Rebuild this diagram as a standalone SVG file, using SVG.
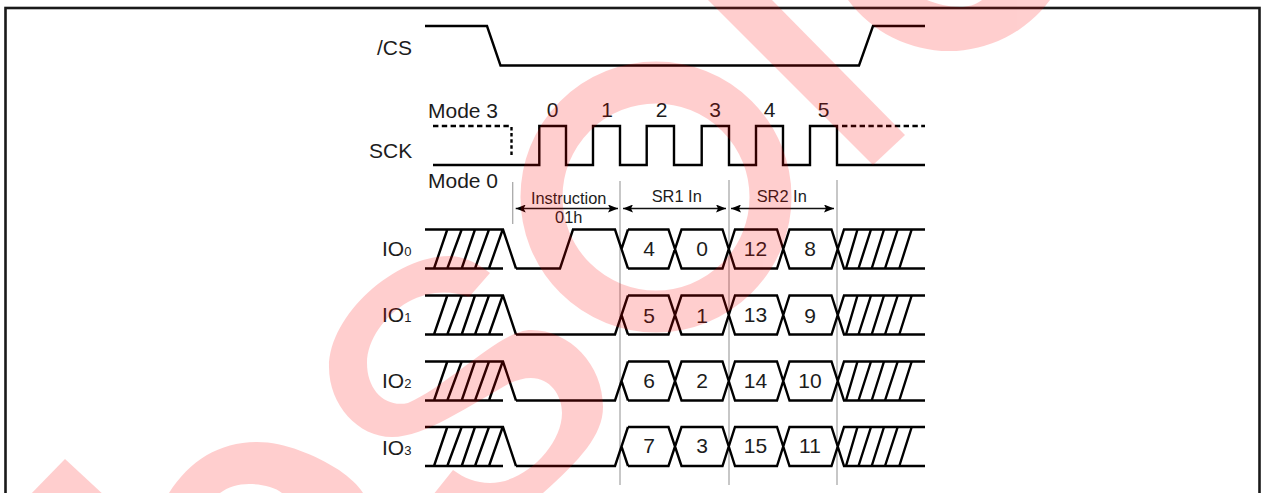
<svg xmlns="http://www.w3.org/2000/svg" xmlns:xlink="http://www.w3.org/1999/xlink" width="1262" height="493" viewBox="0 0 1262 493">
<style>
text{font-family:"Liberation Sans",Arial,sans-serif;fill:#1c1c1c}
.lg{font-size:21px}
.sm{font-size:16.4px;text-anchor:middle}
.num{font-size:21px;text-anchor:middle}
.sub{font-size:13px}
.ln{fill:none;stroke:#000;stroke-width:2.4;stroke-linejoin:miter}
.dash{fill:none;stroke:#000;stroke-width:2.4;stroke-dasharray:5.4 3.4}
.guide{fill:none;stroke:#aaa;stroke-width:1.3}
.arr{fill:none;stroke:#111;stroke-width:1.3;marker-start:url(#ah);marker-end:url(#ah)}
</style>
<defs>
<marker id="ah" viewBox="0 0 10 8" refX="10" refY="4" markerWidth="10" markerHeight="8" markerUnits="userSpaceOnUse" orient="auto-start-reverse"><path d="M0 0L10 4L0 8L2 4Z" fill="#000"/></marker>
<g id="bus">
<path class="ln" d="M425 0H503L516 39M425 39H503M434 39L447.3 0M447.3 39L461.7 0M461.7 39L475 0M475 39L489 0M489 39L502.7 0"/>
<path class="ln" d="M628 0H668.5L681.5 39H722.5L735 0H777L789.5 39H831.5L844 0H925M628 39H668.5L681.5 0H722.5L735 39H777L789.5 0H831.5L844 39H925"/>
<path class="ln" d="M846 39L857.5 0M858.5 39L871 0M871.7 39L884 0M885 39L897.7 0M899.3 39L911.7 0"/>
</g>
<path id="lowrun" class="ln" d="M516 39H615L628 0M621.5 19.5L628 39"/>
</defs>
<rect id="frame" x="5.5" y="8" width="1254" height="500" fill="#fff" stroke="#1a1a1a" stroke-width="2.6"/>
<g id="sig-cs">
<path class="ln" d="M425 26H487L500.5 65.5H859L873 26H925"/>
<text class="lg" x="377" y="55">/CS</text>
</g>
<g id="sig-sck">
<path class="dash" d="M433 126H511"/>
<path class="ln" stroke-dasharray="3.5 2.6" d="M511.5 127V156"/>
<path class="ln" d="M433 165H539.3V126H566V165H593V126H620V165H646.7V126H674V165H701.7V126H729V165H756V126H783V165H810V126H837V165H925"/>
<path class="dash" d="M842 126H925"/>
<text class="lg" x="369" y="158">SCK</text>
<text class="lg" x="428" y="118">Mode 3</text>
<text class="lg" x="428" y="188">Mode 0</text>
<text class="num" x="552.5" y="117">0</text>
<text class="num" x="607" y="117">1</text>
<text class="num" x="661.5" y="117">2</text>
<text class="num" x="715" y="117">3</text>
<text class="num" x="769.5" y="117">4</text>
<text class="num" x="823.5" y="117">5</text>
</g>
<g id="connectors">
<path class="guide" d="M512.7 182V224M620 181V485M729 180V485M837 180V485"/>
<path class="arr" d="M515.7 208.5H618"/>
<path class="arr" d="M623 208.5H726"/>
<path class="arr" d="M731 208.5H834"/>
</g>
<g id="phase-labels">
<text class="sm" x="568.7" y="203.5">Instruction</text>
<text class="sm" x="568.7" y="222.7">01h</text>
<text class="sm" x="676.7" y="202">SR1 In</text>
<text class="sm" x="781.7" y="202">SR2 In</text>
</g>
<g id="sig-io0">
<use href="#bus" xlink:href="#bus" y="229.5"/>
<path class="ln" d="M516 268.5H560L573 229.5H615L628 268.5M621.5 249L628 229.5"/>
<text class="lg" x="382" y="256">IO<tspan class="sub">0</tspan></text>
<text class="num" x="649" y="256">4</text>
<text class="num" x="702" y="256">0</text>
<text class="num" x="755.5" y="256">12</text>
<text class="num" x="810" y="256">8</text>
</g>
<g id="sig-io1">
<use href="#bus" xlink:href="#bus" y="295.5"/>
<use href="#lowrun" xlink:href="#lowrun" y="295.5"/>
<text class="lg" x="382" y="322">IO<tspan class="sub">1</tspan></text>
<text class="num" x="649" y="323">5</text>
<text class="num" x="702" y="323">1</text>
<text class="num" x="755.5" y="321.5">13</text>
<text class="num" x="810" y="322.5">9</text>
</g>
<g id="sig-io2">
<use href="#bus" xlink:href="#bus" y="361.5"/>
<use href="#lowrun" xlink:href="#lowrun" y="361.5"/>
<text class="lg" x="382" y="388">IO<tspan class="sub">2</tspan></text>
<text class="num" x="649" y="387.5">6</text>
<text class="num" x="702" y="387.5">2</text>
<text class="num" x="755.5" y="387.5">14</text>
<text class="num" x="810" y="387.5">10</text>
</g>
<g id="sig-io3">
<use href="#bus" xlink:href="#bus" y="427"/>
<use href="#lowrun" xlink:href="#lowrun" y="427"/>
<text class="lg" x="382" y="455">IO<tspan class="sub">3</tspan></text>
<text class="num" x="649" y="453">7</text>
<text class="num" x="702" y="453">3</text>
<text class="num" x="755.5" y="453">15</text>
<text class="num" x="810" y="453">11</text>
</g>
<g id="watermark" fill="#f00" opacity="0.19">
<path d="M65 459L28 497H106Z"/>
<path d="M169 493C190 460 220 442 257 442C285 442 315 455 339 470C350 478 358 485 363 493H282C275 487 262 484 249 484C238 484 228 487 220 493Z"/>
<path d="M490 273C478 263 463 256 449 256C395 256 329 315 329 367C329 405 358 437 392 437C425 437 470 405 510 383C517 380 524 378 531 378C550 378 562 395 562 413C562 445 525 483 490 483C476 483 464 478 453 470L425 505H530L543 493C580 460 603 435 603 407C603 365 570 330 531 330C500 330 450 385 408 403C385 408 367 390 367 363C367 340 385 315 408 302C428 291 450 290 469 297Z"/>
<circle cx="656" cy="197" r="114.5" fill="none" stroke="#f00" stroke-width="42"/>
<path d="M708 0L873 165L905 135L772 0Z"/>
<path d="M848 0A125.5 125.5 0 0 0 1050 0H982C975 5 968 7 960 7C948 7 937 4 927 0Z"/>
</g>
</svg>
